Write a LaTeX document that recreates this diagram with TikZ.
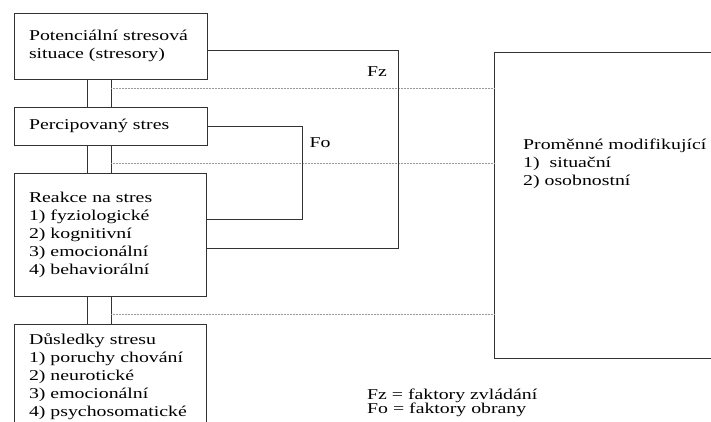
\documentclass[tikz,border=0pt]{standalone}
\usepackage{fontspec}
\setmainfont[FakeStretch=1.32]{Liberation Serif}
\usetikzlibrary{calc}
\begin{document}
\begin{tikzpicture}[x=1pt,y=-1pt,
  box/.style={draw=black!80,line width=0.8pt,rectangle,inner sep=0pt,align=left,
    font=\fontsize{15}{18}\selectfont},
  lbl/.style={inner sep=0pt,font=\fontsize{15}{18}\selectfont,align=left},
  wire/.style={draw=black!80,line width=0.8pt},
  dots/.style={draw=black!40,line width=0.5pt,densely dotted}]
\useasboundingbox (0,0) rectangle (711,421);
\clip (0,0) rectangle (711,421);
\fill[white] (0,0) rectangle (711,421);
% boxes
\node[box,minimum width=193pt,minimum height=66pt,text width=163pt] (a) at (110.5,46)
  {Potenciální stresová\\situace (stresory)};
\node[box,minimum width=193pt,minimum height=38pt,text width=163pt] (b) at (110.5,126)
  {Percipovaný stres};
\node[box,minimum width=192pt,minimum height=123pt,text width=162pt] (c) at (110,234.5)
  {Reakce na stres\\1) fyziologické\\2) kognitivní\\3) emocionální\\4) behaviorální};
\node[box,minimum width=192pt,minimum height=106pt,text width=162pt] (d) at (110,377)
  {Důsledky stresu\\1) poruchy chování\\2) neurotické\\3) emocionální\\4) psychosomatické};
\node[box,minimum width=240pt,minimum height=306pt] (m) at (614,205) {};
\node[lbl,anchor=west] (mt) at (523,164)
  {Proměnné modifikující\\1)\ \ situační\\2) osobnostní};
% double connectors
\coordinate (xa) at (87,0);
\coordinate (xb) at (111,0);
\draw[wire] (a.south -| xa) -- (b.north -| xa);
\draw[wire] (a.south -| xb) -- (b.north -| xb);
\draw[wire] (b.south -| xa) -- (c.north -| xa);
\draw[wire] (b.south -| xb) -- (c.north -| xb);
\draw[wire] (c.south -| xa) -- (d.north -| xa);
\draw[wire] (c.south -| xb) -- (d.north -| xb);
% dotted links to the modifying variables
\coordinate (d1) at (111,88);
\coordinate (d2) at (111,163);
\coordinate (d3) at (111,314);
\draw[dots] (d1) -- (m.west |- d1);
\draw[dots] (d2) -- (m.west |- d2);
\draw[dots] (d3) -- (m.west |- d3);
% Fz loop
\coordinate (fz1) at (398,50);
\coordinate (fz2) at (398,248);
\draw[wire] (a.east |- fz1) -- (fz1) -- (fz2) -- (c.east |- fz2);
\node[lbl] (fz) at (377,72) {Fz};
% Fo loop
\coordinate (fo1) at (302,126);
\coordinate (fo2) at (302,219);
\draw[wire] (b.east) -- (fo1) -- (fo2) -- (c.east |- fo2);
\node[lbl] (fo) at (320,143) {Fo};
% legend
\node[lbl,anchor=west] (l1) at (367,396) {Fz = faktory zvládání};
\node[lbl,anchor=west] (l2) at (367,409.5) {Fo = faktory obrany};
\end{tikzpicture}
\end{document}
